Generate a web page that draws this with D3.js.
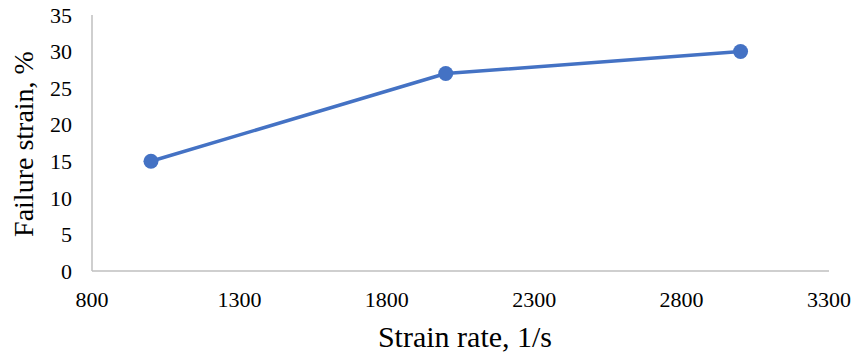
<!DOCTYPE html>
<html>
<head>
<meta charset="utf-8">
<script src="https://cdn.jsdelivr.net/npm/d3@7"></script>
<style>
  body { margin: 0; background: #fff; }
  text { font-family: "Liberation Serif", "Times New Roman", serif; fill: #000; }
</style>
</head>
<body>
<div id="chart"></div>
<script>
// chart data
const strainRate = [1000, 2000, 3000];
const failureStrain = [15, 27, 30];
const xTicks = [800, 1300, 1800, 2300, 2800, 3300];
const yTicks = [0, 5, 10, 15, 20, 25, 30, 35];

const width = 856, height = 356;
const margin = { left: 92, right: 27, top: 15, bottom: 85 };

const svg = d3.select("#chart")
  .append("svg")
  .attr("width", width)
  .attr("height", height);

const x = d3.scaleLinear()
  .domain([800, 3300])
  .range([margin.left, width - margin.right]);

const y = d3.scaleLinear()
  .domain([0, 35])
  .range([height - margin.bottom, margin.top]);

// axes lines (no tick marks)
svg.append("line")
  .attr("x1", x(800)).attr("x2", x(3300))
  .attr("y1", y(0)).attr("y2", y(0))
  .attr("stroke", "#bfbfbf").attr("stroke-width", 1.5);

svg.append("line")
  .attr("x1", x(800)).attr("x2", x(800))
  .attr("y1", y(0)).attr("y2", y(35))
  .attr("stroke", "#bfbfbf").attr("stroke-width", 1.5);

// tick labels
svg.selectAll(".ytick")
  .data(yTicks)
  .enter()
  .append("text")
  .attr("class", "ytick")
  .attr("x", 72)
  .attr("y", d => y(d))
  .attr("dy", "0.35em")
  .attr("text-anchor", "end")
  .style("font-size", "22px")
  .text(d => d);

svg.selectAll(".xtick")
  .data(xTicks)
  .enter()
  .append("text")
  .attr("class", "xtick")
  .attr("x", d => x(d))
  .attr("y", 307)
  .attr("text-anchor", "middle")
  .style("font-size", "22px")
  .text(d => d);

// axis titles
svg.append("text")
  .attr("x", 465)
  .attr("y", 347)
  .attr("text-anchor", "middle")
  .style("font-size", "30px")
  .text("Strain rate, 1/s");

svg.append("text")
  .attr("transform", "translate(33,144) rotate(-90)")
  .attr("text-anchor", "middle")
  .style("font-size", "28px")
  .text("Failure strain, %");

// line + markers
const pts = strainRate.map((d, i) => [d, failureStrain[i]]);

const line = d3.line()
  .x(d => x(d[0]))
  .y(d => y(d[1]));

svg.append("path")
  .datum(pts)
  .attr("fill", "none")
  .attr("stroke", "#4472c4")
  .attr("stroke-width", 3.5)
  .attr("stroke-linejoin", "round")
  .attr("d", line);

svg.selectAll("circle")
  .data(pts)
  .enter()
  .append("circle")
  .attr("cx", d => x(d[0]))
  .attr("cy", d => y(d[1]))
  .attr("r", 7.5)
  .attr("fill", "#4472c4");
</script>
</body>
</html>
